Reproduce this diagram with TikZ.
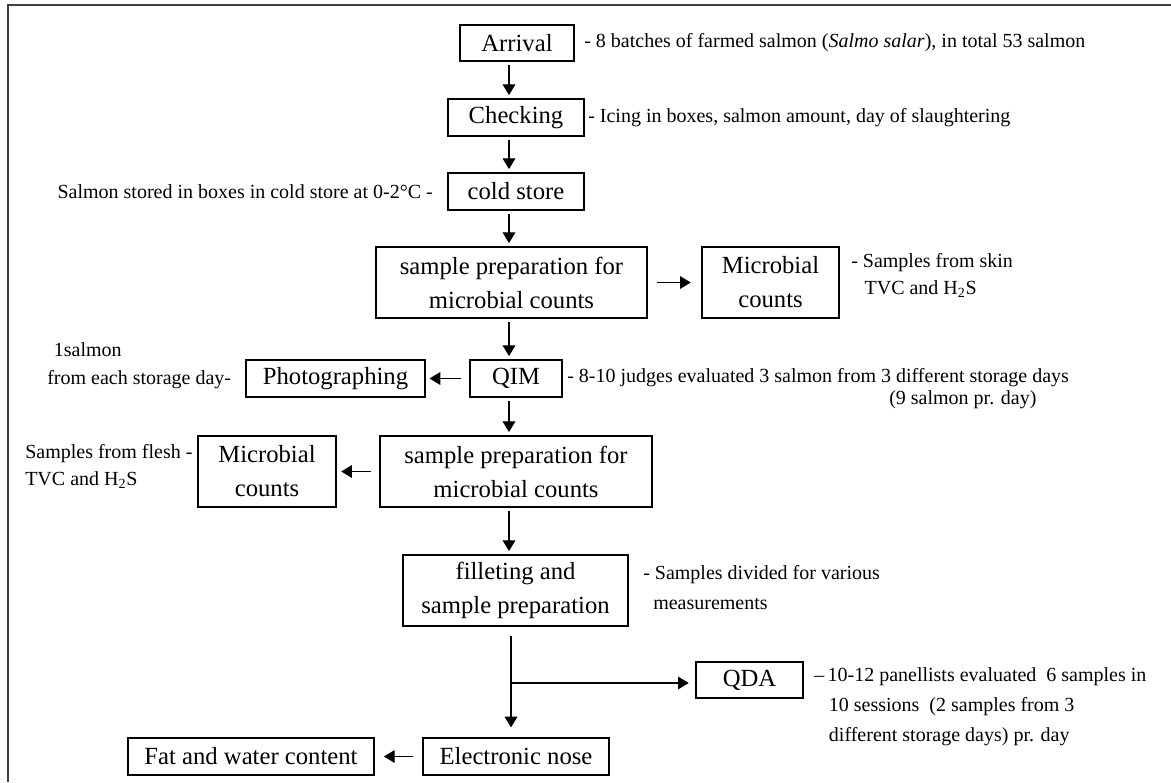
\documentclass[tikz,border=0pt]{standalone}
\usepackage{fontspec}
\setmainfont{Liberation Serif}
\usetikzlibrary{arrows.meta}

\tikzset{
  stage/.style 2 args={draw, line width=0.9pt, minimum width=#1*0.75pt, minimum height=#2*0.75pt,
    inner sep=1pt, align=center, font=\fontsize{18.5}{25.5}\selectfont},
  note/.style={inner sep=0pt, align=left, font=\fontsize{15}{20.5}\selectfont},
  flow/.style={-{Triangle[length=8pt,width=9.5pt]}, line width=0.8pt, shorten <=2.5pt, shorten >=2.5pt},
}

\begin{document}
\begin{tikzpicture}[x=0.75pt,y=-0.75pt]
    \useasboundingbox (0,0) rectangle (1171,782);
    % frame (cut at the right and bottom)
    \draw[line width=1.6pt, black!75] (8,782) -- (8,5) -- (1171,5);

    % main column
    \node[stage={114}{36}] (arrival) at (517,43) {Arrival};
    \node[stage={136}{37}] (checking) at (516,117.5) {Checking};
    \node[stage={136}{37}] (cold) at (516,191.5) {cold store};
    \node[stage={271}{71}] (prep1) at (511.5,282.5) {sample preparation for\\microbial counts};
    \node[stage={92}{37}] (qim) at (516,378.5) {QIM};
    \node[stage={272}{71}] (prep2) at (516,471.5) {sample preparation for\\microbial counts};
    \node[stage={225}{71}] (fillet) at (515.5,590.5) {filleting and\\sample preparation};
    \node[stage={186}{37}] (nose) at (516,756.5) {Electronic nose};

    % side boxes
    \node[stage={137}{71}] (micro1) at (770.5,282.5) {Microbial\\counts};
    \node[stage={179}{37}] (photo) at (335.5,378.5) {Photographing};
    \node[stage={138}{71}] (micro2) at (267,471.5) {Microbial\\counts};
    \node[stage={107}{36}] (qda) at (749.5,680) {QDA};
    \node[stage={246}{37}] (fat) at (251,756.5) {Fat and water content};

    % notes
    \node[note, anchor=west] (arrivalnote) at (584,43) {- 8 batches of farmed salmon (\textit{Salmo salar}), in total 53 salmon};
    \node[note, anchor=west] (checknote) at (588,118) {- Icing in boxes, salmon amount, day of slaughtering};
    \node[note, anchor=east] (coldnote) at (433,192) {Salmon stored in boxes in cold store at 0-2°C -};
    \node[note, anchor=west] (skinnote) at (851,275.5) {- Samples from skin\\\hspace*{10pt}TVC and H\textsubscript{2}S};
    \node[note, anchor=west] (qimnote) at (567,378) {- 8-10 judges evaluated 3 salmon from 3 different storage days};
    \node[note, anchor=west] (qimday) at (889,400) {(9 salmon pr. day)};
    \node[note, anchor=west, font=\fontsize{15}{21}\selectfont] (photonote) at (47,366) {\hspace*{5pt}1salmon\\from each storage day-};
    \node[note, anchor=west] (fleshnote) at (25,466.5) {Samples from flesh -\\TVC and H\textsubscript{2}S};
    \node[note, anchor=west, font=\fontsize{15}{23}\selectfont] (filletnote) at (643,587.5) {- Samples divided for various\\\hspace*{7.5pt}measurements};
    \node[note, anchor=west, font=\fontsize{15}{22.5}\selectfont] (qdanote) at (814,707)
        {–\,10-12 panellists evaluated\ \ 6 samples in\\\hspace*{11pt}10 sessions\ \ (2 samples from 3\\\hspace*{11pt}different storage days) pr. day};

    % arrows
    \coordinate (axis) at (509,0);
    \draw[flow] (arrival.south -| axis) -- (checking.north -| axis);
    \draw[flow] (checking.south -| axis) -- (cold.north -| axis);
    \draw[flow] (cold.south -| axis) -- (prep1.north -| axis);
    \draw[flow, shorten <=7pt, shorten >=8pt] (prep1) -- (micro1);
    \draw[flow] (prep1.south -| axis) -- (qim.north -| axis);
    \draw[flow, shorten <=6pt, shorten >=3pt] (qim) -- (photo);
    \draw[flow] (qim.south -| axis) -- (prep2.north -| axis);
    \draw[flow, shorten <=6pt, shorten >=3.5pt] (prep2) -- (micro2);
    \draw[flow] (prep2.south -| axis) -- (fillet.north -| axis);

    \coordinate (branch) at (511,683);
    \draw[line width=0.8pt, shorten <=7pt] (fillet.south -| branch) -- (branch);
    \draw[flow, shorten <=0pt, shorten >=7.5pt] (branch) -- (nose.north -| branch);
    \draw[flow, shorten <=0pt, shorten >=5pt] (branch) -- (branch -| qda.west);
    \draw[flow, shorten <=7pt, shorten >=7pt] (nose) -- (fat);
\end{tikzpicture}
\end{document}
